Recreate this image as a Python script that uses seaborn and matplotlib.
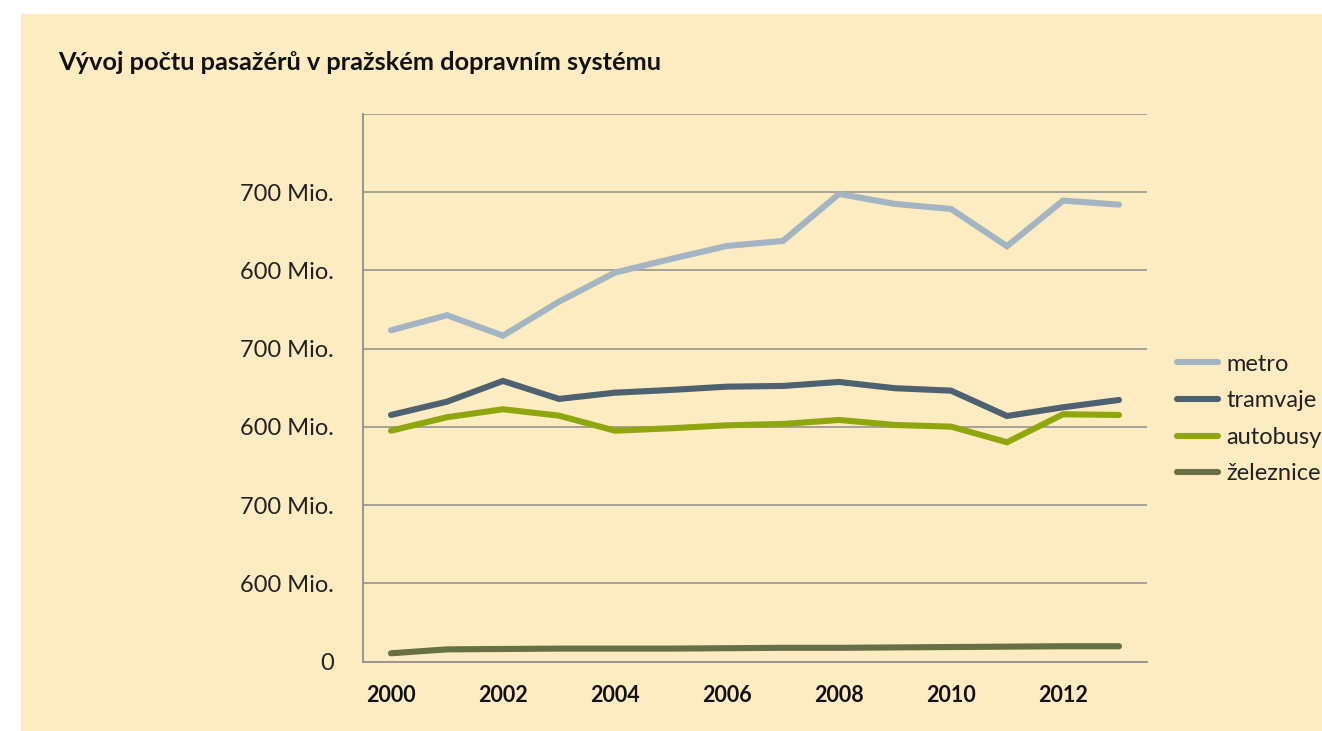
import matplotlib
matplotlib.use("Agg")
import matplotlib.pyplot as plt
import seaborn as sns
import pandas as pd
from matplotlib.patches import Rectangle

# ---- data ----
years = list(range(2000, 2014))
metro = [423.5, 442.7, 416.6, 460.1, 497.2, 514.7, 531.3, 537.7, 597.8, 585.0, 578.6, 531.0, 589.3, 584.1]
tramvaje = [315.2, 332.2, 358.7, 335.7, 343.7, 347.2, 351.4, 352.3, 357.4, 349.4, 346.3, 313.9, 325.0, 334.4]
autobusy = [295.1, 312.3, 322.5, 314.3, 295.1, 298.2, 302.0, 303.7, 308.8, 302.4, 300.3, 280.3, 316.1, 315.2]
zeleznice = [10.5, 15.5, 16.0, 16.5, 16.5, 16.5, 17.0, 17.5, 17.5, 18.0, 18.5, 19.0, 19.5, 19.5]
series_names = ["metro", "tramvaje", "autobusy", "železnice"]
series_colors = ["#A3B4C2", "#4D6170", "#8FA70F", "#667043"]
y_tick_values = [0, 100, 200, 300, 400, 500, 600, 700]
y_tick_labels = ["0", "600 Mio.", "700 Mio.", "600 Mio.", "700 Mio.", "600 Mio.", "700 Mio.", ""]
x_tick_values = [2000, 2002, 2004, 2006, 2008, 2010, 2012]
title = "Vývoj počtu pasažérů v pražském dopravním systému"

df = pd.DataFrame({
    "rok": years * 4,
    "hodnota": metro + tramvaje + autobusy + zeleznice,
    "druh": sum([[n] * len(years) for n in series_names], []),
})

plt.rcParams["font.family"] = ["Lato", "DejaVu Sans"]

W, H = 1322, 731
fig = plt.figure(figsize=(W / 100, H / 100), dpi=100)
fig.patch.set_facecolor("white")
bg = "#FDECC1"
fig.patches.append(Rectangle((21 / W, 0), 1 - 21 / W, 1 - 14 / H,
                             transform=fig.transFigure, facecolor=bg,
                             edgecolor="none", zorder=-10))

ax = fig.add_axes([363 / W, 1 - 661.5 / H, (1147 - 363) / W, (661.5 - 114) / H])
ax.set_facecolor(bg)

sns.lineplot(data=df, x="rok", y="hodnota", hue="druh", hue_order=series_names,
             palette=series_colors, linewidth=4.4, ax=ax, legend=True,
             solid_capstyle="round", solid_joinstyle="miter")

ax.set_xlim(1999.5, 2013.5)
ax.set_ylim(0, 700)
ax.set_yticks(y_tick_values)
ax.set_yticklabels(y_tick_labels)
ax.set_xticks(x_tick_values)
ax.set_xticklabels([str(x) for x in x_tick_values])
ax.set_xlabel("")
ax.set_ylabel("")

grid_c = "#8E8E8E"
for v in y_tick_values[1:]:
    ax.axhline(v, color=grid_c, linewidth=1.1, zorder=0)
for s in ["top", "right"]:
    ax.spines[s].set_visible(False)
for s in ["left", "bottom"]:
    ax.spines[s].set_color(grid_c)
    ax.spines[s].set_linewidth(1.3)

ax.tick_params(axis="y", length=0, pad=21, labelsize=17, labelcolor="#222222")
ax.tick_params(axis="x", length=0, pad=17, labelsize=15.5, labelcolor="#111111")
for t in ax.get_yticklabels():
    t.set_verticalalignment("center_baseline")
for t in ax.get_xticklabels():
    t.set_fontweight("bold")

handles, labels = ax.get_legend_handles_labels()
for h in handles:
    h.set_linewidth(4.4)
    h.set_solid_capstyle("round")
ax.legend(handles, labels, loc="center left", bbox_to_anchor=(1177 / W, 1 - 419 / H),
          bbox_transform=fig.transFigure, frameon=False, fontsize=17,
          handlelength=1.75, handletextpad=0.35, labelspacing=0.66,
          borderpad=0, borderaxespad=0, labelcolor="#222222")

fig.text(58 / W, 1 - 62 / H, title, fontsize=18.3, fontweight="bold",
         va="center", ha="left", color="#111111")

fig.savefig("out.png", dpi=100, facecolor=fig.get_facecolor())
